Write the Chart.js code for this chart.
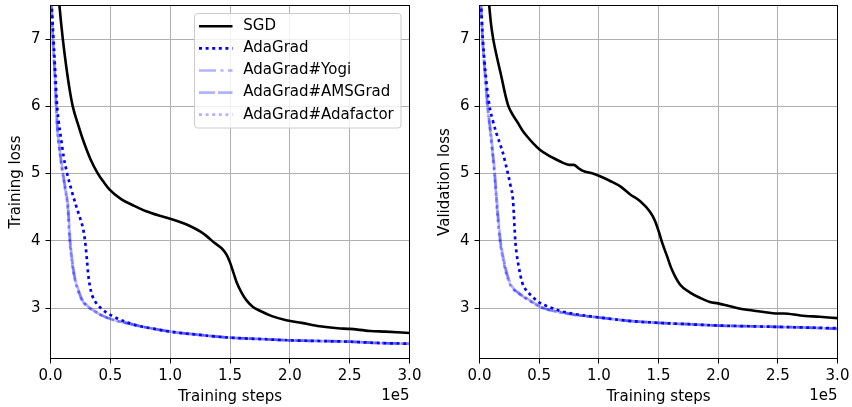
<!DOCTYPE html>
<html><head><meta charset="utf-8">
<script src="https://cdn.jsdelivr.net/npm/chart.js@4.4.1/dist/chart.umd.min.js"></script>
<style>
html,body{margin:0;padding:0;background:#fff;}
#wrap{position:relative;width:852px;height:407px;overflow:hidden;background:#fff;}
canvas{position:absolute;top:0;}
</style></head><body>
<div id="wrap">
<canvas id="c2" width="432" height="407" style="left:420px"></canvas>
<canvas id="c1" width="436" height="407" style="left:0px"></canvas>
</div>
<script>
// ---------- data (x in units of 1e5 training steps) ----------
const xTicks = [0.0, 0.5, 1.0, 1.5, 2.0, 2.5, 3.0];
const yTicks = [3, 4, 5, 6, 7];
const xOffsetLabel = '1e5';
const xTitle = 'Training steps';
const yTitleLeft = 'Training loss';
const yTitleRight = 'Validation loss';
const seriesNames = ['SGD', 'AdaGrad', 'AdaGrad#Yogi', 'AdaGrad#AMSGrad', 'AdaGrad#Adafactor'];

// Training loss
const trainSgdX = [0.072,0.088,0.103,0.131,0.159,0.186,0.234,0.27,0.335,0.396,0.446,0.49,0.59,0.70,0.80,0.90,1.0,1.1,1.165,1.25,1.305,1.37,1.43,1.47,1.50,1.53,1.556,1.60,1.64,1.69,1.75,1.85,1.97,2.1,2.25,2.4,2.5,2.67,2.8,3.0];
const trainSgdY = [7.55,7.25,7.0,6.6,6.26,6.0,5.71,5.51,5.21,5.0,4.87,4.77,4.62,4.52,4.44,4.38,4.33,4.27,4.22,4.14,4.07,3.97,3.89,3.80,3.68,3.52,3.38,3.22,3.11,3.02,2.96,2.88,2.82,2.78,2.73,2.70,2.69,2.66,2.65,2.63];
const trainAdaX = [0.008,0.025,0.04,0.055,0.069,0.089,0.11,0.139,0.173,0.214,0.245,0.27,0.285,0.295,0.305,0.315,0.33,0.35,0.38,0.42,0.47,0.52,0.65,0.75,0.87,1.0,1.25,1.5,1.75,2.0,2.25,2.5,2.75,3.0];
const trainAdaY = [7.55,7.0,6.5,6.0,5.76,5.51,5.25,5.0,4.77,4.52,4.35,4.2,4.05,3.9,3.7,3.5,3.32,3.18,3.08,3.0,2.93,2.88,2.78,2.73,2.69,2.65,2.6,2.56,2.54,2.52,2.51,2.50,2.48,2.47];
const trainYogiX = [0.008,0.02,0.035,0.047,0.06,0.076,0.09,0.103,0.125,0.145,0.162,0.185,0.205,0.228,0.26,0.326,0.38,0.44,0.53,0.63,0.75,1.0,1.25,1.5,1.75,2.0,2.25,2.5,2.75,3.0];
const trainYogiY = [7.55,7.0,6.5,6.0,5.6,5.36,5.15,5.0,4.75,4.5,4.0,3.63,3.42,3.28,3.13,3.0,2.94,2.88,2.82,2.78,2.73,2.65,2.6,2.56,2.54,2.52,2.51,2.50,2.48,2.47];
const trainAmsX = [0.008,0.021,0.036,0.048,0.062,0.078,0.093,0.106,0.128,0.148,0.165,0.188,0.208,0.232,0.265,0.33,0.385,0.445,0.535,0.63,0.75,1.0,1.25,1.5,1.75,2.0,2.25,2.5,2.75,3.0];
const trainAmsY = [7.55,7.0,6.5,6.0,5.6,5.36,5.15,5.0,4.75,4.5,4.0,3.63,3.42,3.28,3.13,3.0,2.94,2.88,2.82,2.78,2.73,2.65,2.6,2.56,2.54,2.52,2.51,2.50,2.48,2.47];
const trainAdafX = [0.008,0.02,0.034,0.046,0.058,0.074,0.088,0.101,0.123,0.143,0.16,0.183,0.203,0.226,0.258,0.324,0.378,0.438,0.53,0.63,0.75,1.0,1.25,1.5,1.75,2.0,2.25,2.5,2.75,3.0];
const trainAdafY = [7.55,7.0,6.5,6.0,5.6,5.36,5.15,5.0,4.75,4.5,4.0,3.63,3.42,3.28,3.13,3.0,2.94,2.88,2.82,2.78,2.73,2.65,2.6,2.56,2.54,2.52,2.51,2.50,2.48,2.47];

// Validation loss
const valSgdX = [0.079,0.095,0.115,0.15,0.185,0.218,0.243,0.28,0.32,0.36,0.405,0.45,0.503,0.57,0.643,0.70,0.754,0.79,0.83,0.867,0.95,1.01,1.095,1.18,1.263,1.347,1.43,1.47,1.50,1.535,1.57,1.61,1.68,1.765,1.85,1.93,2.0,2.09,2.185,2.35,2.505,2.55,2.69,2.85,3.0];
const valSgdY = [7.55,7.25,7.0,6.70,6.43,6.16,6.0,5.87,5.76,5.64,5.54,5.45,5.36,5.28,5.21,5.16,5.13,5.13,5.08,5.04,5.0,4.96,4.89,4.81,4.69,4.59,4.43,4.3,4.15,3.95,3.78,3.58,3.35,3.23,3.15,3.09,3.07,3.03,2.99,2.95,2.92,2.92,2.89,2.87,2.85];
const valAdaX = [0.012,0.028,0.05,0.084,0.11,0.14,0.17,0.196,0.218,0.238,0.26,0.28,0.288,0.293,0.30,0.312,0.327,0.358,0.385,0.42,0.503,0.58,0.67,0.8,1.006,1.25,1.5,1.75,2.0,2.25,2.5,2.75,3.0];
const valAdaY = [7.55,7.0,6.5,6.0,5.8,5.61,5.45,5.31,5.15,5.0,4.82,4.62,4.4,4.22,4.0,3.8,3.63,3.38,3.28,3.21,3.08,3.02,2.96,2.91,2.86,2.81,2.78,2.76,2.74,2.73,2.72,2.71,2.70];
const valYogiX = [0.012,0.025,0.045,0.062,0.072,0.085,0.098,0.126,0.146,0.173,0.21,0.251,0.28,0.32,0.42,0.53,0.67,0.8,1.0,1.25,1.5,1.75,2.0,2.25,2.5,2.75,3.0];
const valYogiY = [7.55,7.0,6.5,6.1,5.9,5.72,5.51,5.0,4.52,4.0,3.63,3.38,3.29,3.23,3.11,3.0,2.94,2.90,2.86,2.81,2.78,2.76,2.74,2.73,2.72,2.71,2.69];
const valAmsX = [0.012,0.026,0.047,0.064,0.075,0.088,0.101,0.129,0.149,0.177,0.215,0.256,0.286,0.326,0.425,0.535,0.67,0.8,1.0,1.25,1.5,1.75,2.0,2.25,2.5,2.75,3.0];
const valAmsY = [7.55,7.0,6.5,6.1,5.9,5.72,5.51,5.0,4.52,4.0,3.63,3.38,3.29,3.23,3.11,3.0,2.94,2.90,2.86,2.81,2.78,2.76,2.74,2.73,2.72,2.71,2.69];
const valAdafX = [0.012,0.025,0.044,0.061,0.071,0.083,0.096,0.124,0.144,0.171,0.208,0.248,0.277,0.317,0.418,0.528,0.67,0.8,1.0,1.25,1.5,1.75,2.0,2.25,2.5,2.75,3.0];
const valAdafY = [7.55,7.0,6.5,6.1,5.9,5.72,5.51,5.0,4.52,4.0,3.63,3.38,3.29,3.23,3.11,3.0,2.94,2.90,2.86,2.81,2.78,2.76,2.74,2.73,2.72,2.71,2.69];

// ---------- styles ----------
const FONT = "'DejaVu Sans', 'Liberation Sans', sans-serif";
Chart.defaults.font.family = FONT;
Chart.defaults.font.size = 15;
Chart.defaults.color = '#000';

const styles = [
  {color:'#000000', dash:[], width:2.6, order:5},
  {color:'#0000ff', dash:[3,3.6], width:2.7, order:4},
  {color:'rgba(0,0,255,0.3)', dash:[17,4.5,3,4.5], width:2.7, order:3},
  {color:'rgba(0,0,255,0.3)', dash:[16,3], width:2.7, order:2},
  {color:'rgba(0,0,255,0.3)', dash:[3,3.6], width:2.7, order:1}
];

function pts(xs, ys){ return xs.map((x,i)=>({x:x, y:ys[i]})); }
function makeDatasets(pairs){
  return pairs.map((p,i)=>({
    label: seriesNames[i],
    data: pts(p[0], p[1]),
    borderColor: styles[i].color,
    backgroundColor: styles[i].color,
    borderDash: styles[i].dash,
    borderWidth: styles[i].width,
    borderCapStyle: 'butt',
    borderJoinStyle: 'round',
    pointRadius: 0,
    fill: false,
    cubicInterpolationMode: 'monotone',
    order: styles[i].order
  }));
}

const framePlugin = {
  id: 'frame',
  afterDatasetsDraw(chart){
    const {ctx, chartArea:a} = chart;
    ctx.save();
    ctx.strokeStyle = '#000'; ctx.lineWidth = 1; ctx.setLineDash([]);
    ctx.strokeRect(a.left, a.top, a.right - a.left, a.bottom - a.top);
    ctx.fillStyle = '#000';
    ctx.font = '15px ' + FONT;
    ctx.textAlign = 'right'; ctx.textBaseline = 'middle';
    ctx.fillText(xOffsetLabel, a.right, 395.7);
    ctx.restore();
  }
};

const legendPlugin = {
  id: 'insideLegend',
  afterDraw(chart){
    const ctx = chart.ctx;
    ctx.save();
    const bx = 194.5, by = 13.5, bw = 206.5, bh = 114.5, r = 3;
    ctx.beginPath();
    ctx.moveTo(bx + r, by);
    ctx.lineTo(bx + bw - r, by); ctx.quadraticCurveTo(bx + bw, by, bx + bw, by + r);
    ctx.lineTo(bx + bw, by + bh - r); ctx.quadraticCurveTo(bx + bw, by + bh, bx + bw - r, by + bh);
    ctx.lineTo(bx + r, by + bh); ctx.quadraticCurveTo(bx, by + bh, bx, by + bh - r);
    ctx.lineTo(bx, by + r); ctx.quadraticCurveTo(bx, by, bx + r, by);
    ctx.closePath();
    ctx.fillStyle = 'rgba(255,255,255,0.8)'; ctx.fill();
    ctx.strokeStyle = '#cccccc'; ctx.lineWidth = 1; ctx.stroke();
    chart.data.datasets.forEach((ds, i) => {
      const y = 26.3 + i * 22.1;
      ctx.beginPath();
      ctx.setLineDash(ds.borderDash || []);
      ctx.lineCap = 'butt';
      ctx.lineWidth = ds.borderWidth;
      ctx.strokeStyle = ds.borderColor;
      ctx.moveTo(199, y); ctx.lineTo(232.5, y); ctx.stroke();
      ctx.setLineDash([]);
      ctx.fillStyle = '#000';
      ctx.font = '15px ' + FONT;
      ctx.textAlign = 'left'; ctx.textBaseline = 'middle';
      ctx.fillText(ds.label, 243.3, y);
    });
    ctx.restore();
  }
};

function makeChart(id, datasets, yTitle, yWidth, padRight, yTitlePad, withLegend){
  return new Chart(document.getElementById(id), {
    type: 'line',
    data: { datasets },
    options: {
      responsive: false, animation: false, devicePixelRatio: 1, events: [],
      layout: { padding: { left: 0, right: padRight, top: 5.5, bottom: 0 } },
      plugins: { legend: { display: false }, tooltip: { enabled: false } },
      scales: {
        x: {
          type: 'linear', min: 0, max: 3.0,
          afterBuildTicks: (ax) => { ax.ticks = xTicks.map(v => ({value: v})); },
          afterFit: (s) => { s.height = 48.5; s.paddingLeft = 0; s.paddingRight = 0; s.paddingTop = 0; s.paddingBottom = 0; },
          ticks: { callback: (v) => Number(v).toFixed(1), padding: 3.5, color: '#000', font: {size: 15}, maxRotation: 0 },
          grid: { color: '#b0b0b0', lineWidth: 1, drawTicks: true, tickLength: 5, tickColor: '#000', tickWidth: 1 },
          border: { display: true, color: '#000', width: 1 },
          title: { display: true, text: xTitle, color: '#000', font: {size: 15}, padding: {top: 0, bottom: 1.3} }
        },
        y: {
          type: 'linear', min: 2.25, max: 7.5,
          afterBuildTicks: (ax) => { ax.ticks = yTicks.map(v => ({value: v})); },
          afterFit: (s) => { s.width = yWidth; s.paddingTop = 0; s.paddingBottom = 0; s.paddingLeft = 0; s.paddingRight = 0; },
          ticks: { callback: (v) => String(v), padding: 5, color: '#000', font: {size: 15} },
          grid: { color: '#b0b0b0', lineWidth: 1, drawTicks: true, tickLength: 5, tickColor: '#000', tickWidth: 1 },
          border: { display: true, color: '#000', width: 1 },
          title: { display: true, text: yTitle, color: '#000', font: {size: 15}, padding: {top: yTitlePad, bottom: 0} }
        }
      }
    },
    plugins: withLegend ? [framePlugin, legendPlugin] : [framePlugin]
  });
}

makeChart('c1', makeDatasets([
  [trainSgdX, trainSgdY], [trainAdaX, trainAdaY], [trainYogiX, trainYogiY],
  [trainAmsX, trainAmsY], [trainAdafX, trainAdafY]
]), yTitleLeft, 50.5, 26.5, 7.3, true);

makeChart('c2', makeDatasets([
  [valSgdX, valSgdY], [valAdaX, valAdaY], [valYogiX, valYogiY],
  [valAmsX, valAmsY], [valAdafX, valAdafY]
]), yTitleRight, 59.5, 14.5, 16, false);
</script>
</body></html>
